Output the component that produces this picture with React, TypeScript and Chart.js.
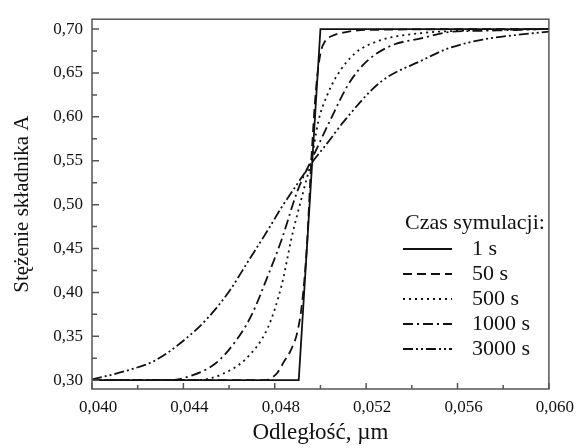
import React, { useEffect, useRef } from "react";
import { Chart, registerables } from "chart.js";

Chart.register(...registerables);

// ---- data ----
const SERIES_LABELS = ["1 s", "50 s", "500 s", "1000 s", "3000 s"];
const LEGEND_TITLE = "Czas symulacji:";
const X_TITLE = "Odległość, µm";
const Y_TITLE = "Stężenie składnika A";

const X_TICKS = [0.04, 0.044, 0.048, 0.052, 0.056, 0.06];
const X_MINOR_TICKS = [0.042, 0.046, 0.05, 0.054, 0.058];
const Y_TICKS = [0.3, 0.35, 0.4, 0.45, 0.5, 0.55, 0.6, 0.65, 0.7];
const Y_MINOR_TICKS = [0.325, 0.375, 0.425, 0.475, 0.525, 0.575, 0.625, 0.675];

const X_1 = [0.04, 0.04905, 0.05, 0.06];
const Y_1 = [0.3, 0.3, 0.7, 0.7];

const X_50 = [0.04, 0.0476, 0.0478, 0.0481, 0.0484, 0.0487, 0.049, 0.0492, 0.0494, 0.0496, 0.0498, 0.05, 0.0502, 0.0505, 0.051, 0.052, 0.06];
const Y_50 = [0.3, 0.3, 0.302, 0.308, 0.321, 0.334, 0.356, 0.389, 0.45, 0.55, 0.63, 0.672, 0.686, 0.692, 0.696, 0.699, 0.7];

const X_500 = [0.04, 0.0446, 0.0457, 0.0468, 0.0477, 0.0483, 0.0486, 0.0487, 0.0493, 0.0496, 0.0499, 0.0503, 0.0507, 0.0515, 0.0526, 0.0543, 0.056, 0.06];
const Y_500 = [0.3, 0.3, 0.307, 0.326, 0.36, 0.408, 0.445, 0.458, 0.52, 0.55, 0.594, 0.625, 0.646, 0.672, 0.687, 0.695, 0.698, 0.7];

const X_1000 = [0.04, 0.0434, 0.0442, 0.0454, 0.0463, 0.047, 0.0477, 0.0483, 0.049, 0.0497, 0.0505, 0.0512, 0.0519, 0.053, 0.0545, 0.0556, 0.0571, 0.06];
const Y_1000 = [0.3, 0.3, 0.304, 0.319, 0.345, 0.375, 0.419, 0.46, 0.516, 0.556, 0.6, 0.636, 0.66, 0.68, 0.69, 0.6965, 0.698, 0.7];

const X_3000 = [0.04, 0.0414, 0.0428, 0.044, 0.045, 0.046, 0.0468, 0.0477, 0.0483, 0.049, 0.0496, 0.0503, 0.051, 0.0526, 0.0545, 0.0556, 0.0571, 0.0585, 0.06];
const Y_3000 = [0.301, 0.31, 0.323, 0.345, 0.369, 0.401, 0.434, 0.471, 0.497, 0.524, 0.547, 0.57, 0.594, 0.639, 0.665, 0.678, 0.688, 0.693, 0.697];

const SERIES_X = [X_1, X_50, X_500, X_1000, X_3000];
const SERIES_Y = [Y_1, Y_50, Y_500, Y_1000, Y_3000];

// ---- styles ----
const FONT = "'Liberation Serif', 'Times New Roman', serif";
const INK = "#111111";
const FRAME = "#555555";
const DASHES = [[], [9, 5], [2, 4], [10, 4, 2, 4], [10, 3, 2, 3, 2, 3]];

const fmtComma = (v: number, d: number) => v.toFixed(d).replace(".", ",");

const framePlugin = {
  id: "frameTicks",
  afterDatasetsDraw(chart: any) {
    const { ctx, chartArea: a, scales } = chart;
    const xs = scales.x;
    const ys = scales.y;
    ctx.save();
    ctx.strokeStyle = FRAME;
    ctx.lineWidth = 1.5;
    ctx.strokeRect(a.left, a.top, a.right - a.left, a.bottom - a.top);
    ctx.beginPath();
    const tickX = (vals: number[], len: number) => {
      vals.forEach((v) => {
        const px = xs.getPixelForValue(v);
        ctx.moveTo(px, a.bottom);
        ctx.lineTo(px, a.bottom - len);
      });
    };
    const tickY = (vals: number[], len: number) => {
      vals.forEach((v) => {
        const py = ys.getPixelForValue(v);
        ctx.moveTo(a.left, py);
        ctx.lineTo(a.left + len, py);
      });
    };
    tickX(X_TICKS, 6);
    tickX(X_MINOR_TICKS, 4);
    tickY(Y_TICKS, 7);
    tickY(Y_MINOR_TICKS, 5);
    ctx.stroke();
    ctx.restore();
  },
};

const legendPlugin = {
  id: "customLegend",
  afterDraw(chart: any) {
    const { ctx } = chart;
    const x0 = 403;
    const titleY = 223;
    const rowY = 249;
    const rowH = 25;
    ctx.save();
    ctx.fillStyle = INK;
    ctx.font = `22px ${FONT}`;
    ctx.textBaseline = "middle";
    ctx.textAlign = "left";
    ctx.fillText(LEGEND_TITLE, x0 + 2, titleY);
    chart.data.datasets.forEach((ds: any, i: number) => {
      const y = rowY + i * rowH;
      ctx.beginPath();
      ctx.setLineDash(ds.borderDash || []);
      ctx.strokeStyle = ds.borderColor;
      ctx.lineWidth = 2;
      ctx.moveTo(x0, y);
      ctx.lineTo(x0 + 49, y);
      ctx.stroke();
      ctx.setLineDash([]);
      ctx.fillText(ds.label, x0 + 69, y);
    });
    ctx.restore();
  },
};

export default function App() {
  const ref = useRef<HTMLCanvasElement | null>(null);

  useEffect(() => {
    if (!ref.current) return;
    const datasets = SERIES_LABELS.map((label, i) => ({
      label,
      data: SERIES_X[i].map((x, j) => ({ x, y: SERIES_Y[i][j] })),
      showLine: true,
      borderColor: INK,
      backgroundColor: INK,
      borderWidth: 1.8,
      borderDash: DASHES[i],
      pointRadius: 0,
      fill: false,
      tension: i === 0 ? 0 : 0.4,
      cubicInterpolationMode: i === 0 ? "default" : "monotone",
    }));

    const chart = new Chart(ref.current, {
      type: "scatter",
      data: { datasets } as any,
      options: {
        animation: false,
        responsive: true,
        maintainAspectRatio: false,
        layout: { padding: { top: 12, right: 22, left: 0, bottom: 0 } },
        plugins: {
          legend: { display: false },
          tooltip: { enabled: false },
        },
        scales: {
          x: {
            type: "linear",
            min: 0.04,
            max: 0.06,
            afterBuildTicks: (s: any) => {
              s.ticks = X_TICKS.map((v) => ({ value: v }));
            },
            afterFit: (s: any) => {
              s.height = 59;
            },
            grid: { display: false, drawTicks: false },
            border: { display: false },
            ticks: {
              autoSkip: false,
              maxRotation: 0,
              padding: 8,
              labelOffset: 6,
              color: INK,
              font: { family: FONT, size: 17 },
              callback: (v: any) => fmtComma(Number(v), 3),
            },
            title: {
              display: true,
              text: X_TITLE,
              color: INK,
              font: { family: FONT, size: 23 },
              padding: { top: 0, bottom: 1 },
            },
          },
          y: {
            type: "linear",
            min: 0.29,
            max: 0.7112,
            afterBuildTicks: (s: any) => {
              s.ticks = Y_TICKS.map((v) => ({ value: v }));
            },
            afterFit: (s: any) => {
              s.width = 92;
            },
            grid: { display: false, drawTicks: false },
            border: { display: false },
            ticks: {
              autoSkip: false,
              padding: 9,
              color: INK,
              font: { family: FONT, size: 17 },
              callback: (v: any) => fmtComma(Number(v), 2),
            },
            title: {
              display: true,
              text: Y_TITLE,
              color: INK,
              font: { family: FONT, size: 21 },
              padding: { top: 10, bottom: 0 },
            },
          },
        },
      } as any,
      plugins: [framePlugin, legendPlugin],
    });
    return () => chart.destroy();
  }, []);

  return (
    <div
      style={{
        position: "fixed",
        left: 0,
        top: 0,
        width: 576,
        height: 448,
        background: "#ffffff",
      }}
    >
      <canvas ref={ref} />
    </div>
  );
}
